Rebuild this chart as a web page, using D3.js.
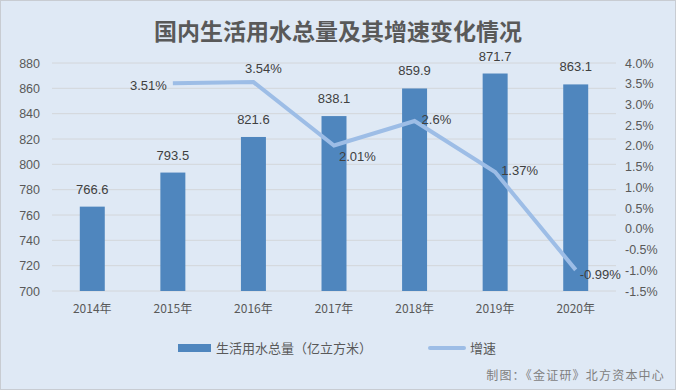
<!DOCTYPE html>
<html><head><meta charset="utf-8">
<script src="https://cdn.jsdelivr.net/npm/d3@7"></script>
<style>body{margin:0;background:#fff;}svg{display:block;font-family:"Noto Sans CJK SC","Noto Sans",sans-serif;}</style>
</head><body>
<svg id="c" width="676" height="390"></svg>
<script>
const years = ["2014年","2015年","2016年","2017年","2018年","2019年","2020年"];
const volume = [766.6,793.5,821.6,838.1,859.9,871.7,863.1];
const growthYears = ["2015年","2016年","2017年","2018年","2019年","2020年"];
const growth = [3.51,3.54,2.01,2.6,1.37,-0.99];
const growthLabels = ["3.51%","3.54%","2.01%","2.6%","1.37%","-0.99%"];
const leftTicks = [700,720,740,760,780,800,820,840,860,880];
const rightTicks = [-1.5,-1.0,-0.5,0,0.5,1.0,1.5,2.0,2.5,3.0,3.5,4.0];

const svg = d3.select("#c");
svg.append("rect").attr("x",0.5).attr("y",0.5).attr("width",675).attr("height",389)
  .attr("fill","#dfe9f5").attr("stroke","#c8ccd2");

svg.append("text").attr("x",338).attr("y",40).attr("text-anchor","middle")
  .attr("font-size",23).attr("font-weight","bold").attr("fill","#595959").text("国内生活用水总量及其增速变化情况");

const L=52,R=616,T=63,B=291;
const x = d3.scaleBand().domain(years).range([L,R]).paddingInner(0.69).paddingOuter(0.345);
const yL = d3.scaleLinear().domain([700,880]).range([B,T]);
const yR = d3.scaleLinear().domain([-1.5,4.0]).range([B,T]);

// grid
svg.append("g").selectAll("line").data(leftTicks).join("line")
  .attr("x1",L).attr("x2",R).attr("y1",d=>yL(d)).attr("y2",d=>yL(d))
  .attr("stroke","#d3d6da").attr("stroke-width",1);

// left axis labels
svg.append("g").selectAll("text").data(leftTicks).join("text")
  .attr("x",40).attr("y",d=>yL(d)+4.5).attr("text-anchor","end")
  .attr("font-size",12.5).attr("fill","#595959").attr("font-family","Liberation Sans, sans-serif").text(d=>d);

// right axis labels
svg.append("g").selectAll("text").data(rightTicks).join("text")
  .attr("x",625).attr("y",d=>yR(d)+4.5).attr("text-anchor","start")
  .attr("font-size",12.5).attr("fill","#595959").attr("font-family","Liberation Sans, sans-serif").text(d=>d.toFixed(1)+"%");

// x labels
svg.append("g").selectAll("text").data(years).join("text")
  .attr("x",d=>x(d)+x.bandwidth()/2).attr("y",313).attr("text-anchor","middle")
  .attr("font-size",12).attr("fill","#595959").text(d=>d);

// bars
svg.append("g").selectAll("rect").data(volume).join("rect")
  .attr("x",(d,i)=>x(years[i])).attr("width",x.bandwidth())
  .attr("y",d=>yL(d)).attr("height",d=>yL(700)-yL(d)).attr("fill","#4f86be");

svg.append("g").selectAll("text").data(volume).join("text")
  .attr("x",(d,i)=>x(years[i])+x.bandwidth()/2).attr("y",d=>yL(d)-13).attr("text-anchor","middle")
  .attr("font-size",13).attr("fill","#404040").attr("font-family","Liberation Sans, sans-serif").text(d=>d.toFixed(1));

// line
const cx = i => x(growthYears[i])+x.bandwidth()/2;
svg.append("path").datum(growth)
  .attr("d",d3.line().x((d,i)=>cx(i)).y(d=>yR(d)))
  .attr("fill","none").attr("stroke","#9dbde6").attr("stroke-width",4).attr("stroke-linejoin","miter");

const off = [[-6,7,"end"],[10,-9,"middle"],[5,16,"start"],[7,3,"start"],[6,3,"start"],[4,9,"start"]];
svg.append("g").selectAll("text").data(growth).join("text")
  .attr("x",(d,i)=>cx(i)+off[i][0]).attr("y",(d,i)=>yR(d)+off[i][1]).attr("text-anchor",(d,i)=>off[i][2])
  .attr("font-size",13).attr("fill","#404040").attr("font-family","Liberation Sans, sans-serif").text((d,i)=>growthLabels[i]);

// legend
svg.append("rect").attr("x",178).attr("y",344).attr("width",33).attr("height",8).attr("fill","#4f86be");
svg.append("text").attr("x",216).attr("y",353).attr("font-size",13).attr("fill","#595959").text("生活用水总量（亿立方米）");
svg.append("line").attr("x1",430).attr("x2",464).attr("y1",348).attr("y2",348).attr("stroke","#9dbde6").attr("stroke-width",4).attr("stroke-linecap","round");
svg.append("text").attr("x",470).attr("y",353).attr("font-size",13).attr("fill","#595959").text("增速");

svg.append("text").attr("x",665).attr("y",380).attr("text-anchor","end").attr("font-size",12).attr("letter-spacing",1.2).attr("fill","#7f7f7f").text("制图：《金证研》北方资本中心");
</script>
</body></html>
